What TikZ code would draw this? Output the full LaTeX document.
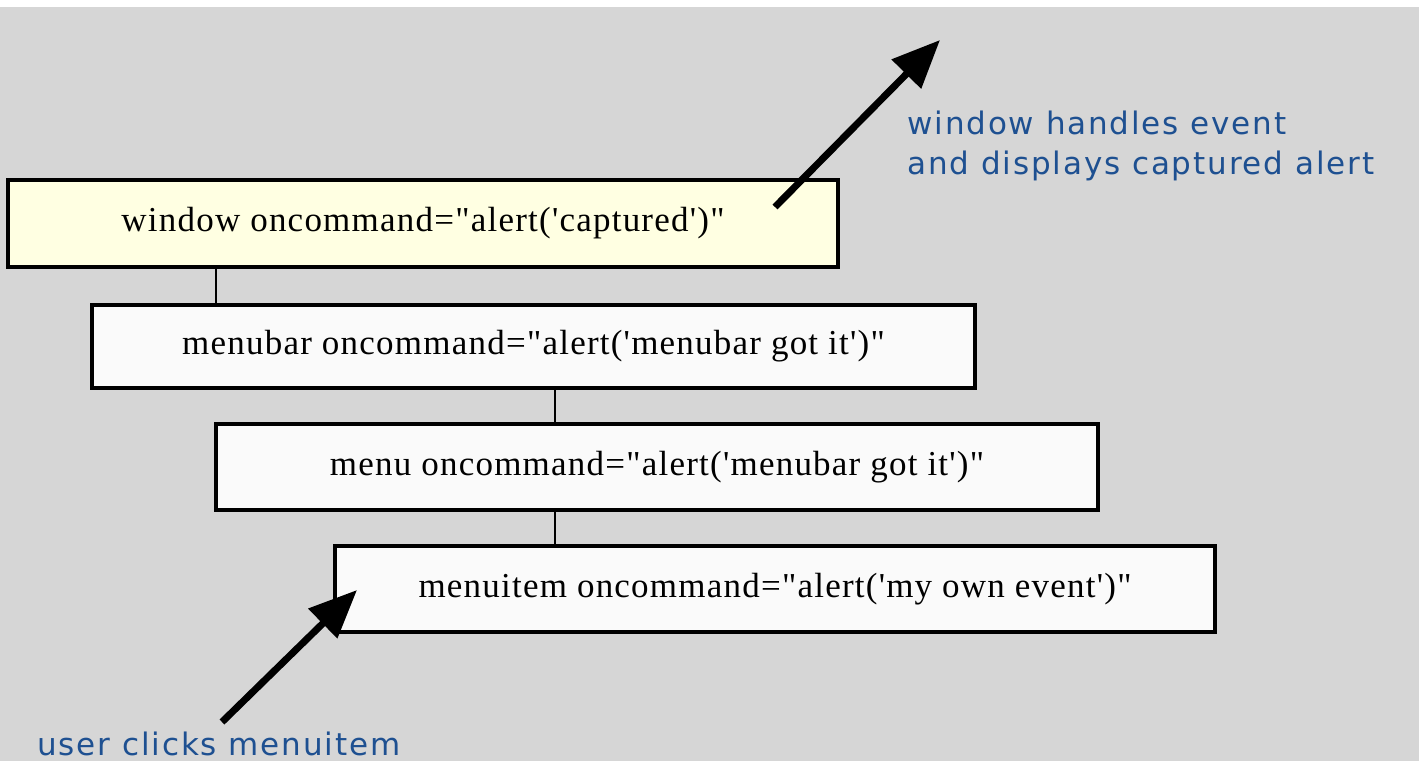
\documentclass[tikz,border=0pt]{standalone}
\usepackage{fontspec}
\setmainfont{Liberation Serif}[Ligatures=TeXOff, LetterSpace=3.5]
\newfontfamily\notefont{DejaVu Sans}[LetterSpace=6]
\usetikzlibrary{arrows.meta}
\definecolor{canvas}{RGB}{214,214,214}
\definecolor{notecol}{RGB}{30,80,145}
\definecolor{paleyellow}{RGB}{255,255,226}
\definecolor{boxwhite}{RGB}{250,250,250}
\tikzset{
  elembox/.style={draw=black, line width=2.25pt, fill=boxwhite, inner sep=0pt,
    font=\fontsize{17.5}{20}\selectfont},
  link/.style={draw=black, line width=1pt},
  bigarrow/.style={draw=black, line width=3.5pt,
    -{Triangle[length=24pt,width=20pt]}},
  note/.style={text=notecol, font=\notefont\fontsize{15.5}{16}\selectfont,
    align=left, inner sep=0pt}
}
\begin{document}
\begin{tikzpicture}[x=0.5pt,y=-0.5pt]
  \useasboundingbox (0,0) rectangle (1419,761);
  \fill[white] (0,0) rectangle (1419,761);
  \fill[canvas] (0,7) rectangle (1419,761);

  % element hierarchy
  \node[elembox, fill=paleyellow, minimum width=415pt, minimum height=43.5pt]
    (window) at (423,223.5) {window oncommand="alert('captured')"};
  \node[elembox, minimum width=441.5pt, minimum height=41.5pt]
    (menubar) at (533.5,346.5) {menubar oncommand="alert('menubar got it')"};
  \node[elembox, minimum width=441pt, minimum height=43pt]
    (menu) at (657,467) {menu oncommand="alert('menubar got it')"};
  \node[elembox, minimum width=440pt, minimum height=43pt]
    (menuitem) at (775,589) {menuitem oncommand="alert('my own event')"};

  % parent-child links
  \coordinate (lx1) at (216,0);
  \coordinate (lx2) at (555,0);
  \draw[link] (window.south -| lx1) -- (menubar.north -| lx1);
  \draw[link] (menubar.south -| lx2) -- (menu.north -| lx2);
  \draw[link] (menu.south -| lx2) -- (menuitem.north -| lx2);

  % event flow
  \coordinate (upstart) at (775,207);
  \coordinate (uptip) at (940,40);
  \draw[bigarrow] (upstart) -- (uptip);
  \coordinate (clickstart) at (222,722);
  \coordinate (clicktip) at (357,590);
  \draw[bigarrow] (clickstart) -- (clicktip);

  % notes
  \node[note, anchor=base west] (handled) at (907,134) {window handles event};
  \node[note, anchor=base west] (displayed) at (907,174) {and displays captured alert};
  \node[note, anchor=base west] (clicked) at (37,755) {user clicks menuitem};
\end{tikzpicture}
\end{document}
